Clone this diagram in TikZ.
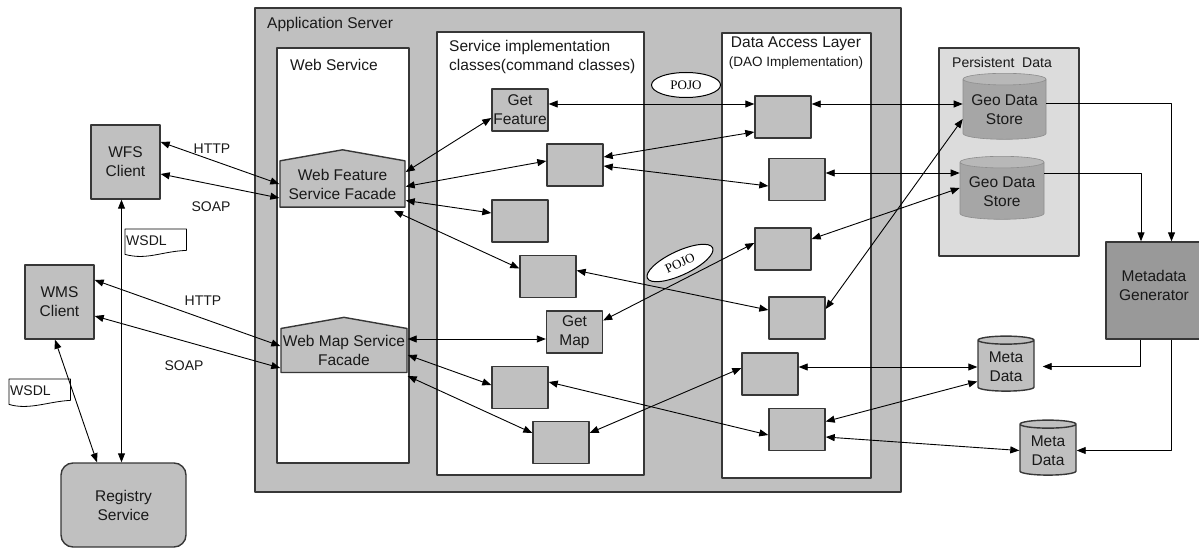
\documentclass[tikz,border=0pt]{standalone}
\usepackage{fontspec}
\setmainfont{Liberation Sans}
\newfontfamily\pojofont{Liberation Serif}
\usetikzlibrary{arrows.meta}
\usetikzlibrary{shapes.geometric}
\usetikzlibrary{shapes.symbols}
\usetikzlibrary{calc}

\definecolor{srvgray}{RGB}{192,192,192}
\definecolor{boxgray}{RGB}{192,192,192}
\definecolor{pergray}{RGB}{220,220,220}
\definecolor{geogray}{RGB}{166,166,166}
\definecolor{gengray}{RGB}{153,153,153}
\definecolor{edgegray}{RGB}{55,55,55}

\tikzset{
  txt/.style={font=\fontsize{15.5}{19}\selectfont, text=black!90},
  smalltxt/.style={font=\fontsize{14}{17}\selectfont, text=black!90},
  frame/.style={draw=edgegray, line width=1.4pt},
  cls/.style={frame, fill=boxgray, minimum width=56pt, minimum height=42pt, inner sep=1pt, align=center, txt},
  client/.style={cls, minimum width=69pt, minimum height=74pt},
  facade/.style={signal, signal to=north, signal pointer angle=160, frame, fill=boxgray, minimum width=125pt, minimum height=56pt, inner sep=1pt, align=center, txt},
  geostore/.style={cylinder, shape border rotate=90, aspect=0.17, cylinder uses custom fill, cylinder body fill=geogray, cylinder end fill=geogray!80!white, draw=geogray!85!black, line width=0.6pt, align=center, txt, inner sep=1pt},
  metastore/.style={cylinder, shape border rotate=90, aspect=0.22, frame, fill=boxgray, minimum width=56pt, minimum height=55pt, align=center, txt, inner sep=1pt},
  wsdldoc/.style={smalltxt, minimum height=22pt, inner xsep=1pt, text width=59pt, align=left, anchor=north west},
  pojo/.style={ellipse, draw, line width=1pt, fill=white, minimum width=69pt, minimum height=25pt, inner sep=0pt, font=\pojofont\fontsize{13}{15}\selectfont},
  conn/.style={<->, line width=0.9pt},
  flow/.style={->, line width=0.9pt},
}

\begin{document}
\begin{tikzpicture}[x=1pt, y=1pt, line join=round, >={Triangle[length=9pt, width=7pt]}]
  \useasboundingbox (0,0) rectangle (1199,-548);
  %--- Containers
    \draw[frame, fill=srvgray] (255,-8) rectangle (901,-492);
    \draw[frame, fill=white] (277,-48) rectangle (409,-463);
    \draw[frame, fill=white] (437,-32) rectangle (644,-475);
    \draw[frame, fill=white] (722,-33) rectangle (871,-478);
    \draw[frame, fill=pergray] (939,-48) rectangle (1079,-256);
    \node[txt, anchor=base west, inner sep=0pt] (srvtitle) at (267,-29) {Application Server};
    \node[txt, anchor=base west, inner sep=0pt] (wstitle) at (290,-71) {Web Service};
    \node[txt, anchor=north west, inner sep=0pt, align=left] (impltitle) at (449,-40.5) {Service implementation\\classes(command classes)};
    \node[txt, anchor=north, inner sep=0pt, align=center] (daotitle) at (796,-37) {Data Access Layer\\{\fontsize{13.5}{17}\selectfont(DAO Implementation)}};
    \node[smalltxt, anchor=base west, inner sep=0pt] (pertitle) at (952,-67.5) {Persistent\ \ Data};
  %--- Clients
    \node[client] (wfs) at (125.5,-162) {WFS\\Client};
    \node[client] (wms) at (59.5,-302) {WMS\\Client};
    \node[client, rounded corners=12pt, minimum width=125pt, minimum height=84pt] (reg) at (123.5,-505) {Registry\\Service};
    \node[wsdldoc] (wsdla) at (125,-229) {WSDL};
    \node[wsdldoc] (wsdlb) at (9,-379) {WSDL};
    \draw[line width=0.8pt] (wsdla.north west) -- (wsdla.north east) -- ([yshift=1pt]wsdla.south east)
      .. controls ([xshift=-25pt, yshift=0pt]wsdla.south east) and ([xshift=22pt, yshift=-9pt]wsdla.south west) .. ([yshift=-3pt]wsdla.south west) -- cycle;
    \draw[line width=0.8pt] (wsdlb.north west) -- (wsdlb.north east) -- ([yshift=1pt]wsdlb.south east)
      .. controls ([xshift=-22pt, yshift=0pt]wsdlb.south east) and ([xshift=20pt, yshift=-9pt]wsdlb.south west) .. ([yshift=-3pt]wsdlb.south west) -- cycle;
  %--- Web service facades
    \node[facade] (wfsf) at (342.5,-184) {Web Feature\\Service Facade};
    \node[facade, minimum width=126pt, minimum height=55pt] (wmsf) at (344,-350.5) {Web Map Service\\Facade};
  %--- Command classes
    \node[cls] (gf) at (520,-110) {Get\\Feature};
    \node[cls] (cmdb) at (575,-165) {};
    \node[cls] (cmdc) at (520,-221) {};
    \node[cls] (cmdd) at (548,-276.5) {};
    \node[cls] (gm) at (574.5,-332) {Get\\Map};
    \node[cls] (cmdf) at (520,-387.5) {};
    \node[cls] (cmdg) at (561,-442.5) {};
  %--- DAO classes
    \node[cls] (daoa) at (783,-117) {};
    \node[cls] (daob) at (797,-179.5) {};
    \node[cls] (daoc) at (783,-249) {};
    \node[cls] (daod) at (797,-318) {};
    \node[cls] (daoe) at (770,-374) {};
    \node[cls] (daof) at (797,-429.5) {};
  %--- Stores
    \node[geostore, minimum width=83pt, minimum height=66pt] (geoa) at (1004.5,-110) {Geo Data\\Store};
    \node[geostore, minimum width=84pt, minimum height=63pt] (geob) at (1002,-191.5) {Geo Data\\Store};
    \node[metastore] (metaa) at (1006,-366.5) {Meta\\Data};
    \node[metastore] (metab) at (1048,-450.5) {Meta\\Data};
    \node[cls, fill=gengray, minimum width=96pt, minimum height=97pt, text depth=10pt] (gen) at (1154,-290.5) {Metadata\\Generator};
  %--- POJO
    \node[pojo] (pojoa) at (686,-85) {POJO};
    \node[pojo, rotate=25, minimum width=72pt, minimum height=24pt] (pojob) at (680,-263) {POJO};
  %--- Client links
    \draw[conn] ([yshift=20pt]wfs.east) -- (wfsf.west);
    \draw[conn] ([yshift=-12pt]wfs.east) -- ([yshift=-14pt]wfsf.west);
    \draw[conn] ([yshift=22pt]wms.east) -- ([yshift=4.5pt]wmsf.west);
    \draw[conn] ([yshift=-14pt]wms.east) -- ([yshift=-17.5pt]wmsf.west);
    \draw[conn] ([xshift=-4pt]wfs.south) -- ([xshift=-4pt]wfs.south |- reg.north);
    \draw[conn] ([xshift=-4.5pt]wms.south) -- ([xshift=-26.5pt]reg.north);
    \node[smalltxt] (httpa) at (212,-149) {HTTP};
    \node[smalltxt] (soapa) at (211,-207) {SOAP};
    \node[smalltxt] (httpb) at (203,-301) {HTTP};
    \node[smalltxt] (soapb) at (184,-366) {SOAP};
  %--- Facade to commands
    \draw[conn] ([yshift=12pt]wfsf.east) -- ([yshift=-8pt]gf.west);
    \draw[conn] ([yshift=-2.5pt]wfsf.east) -- ([yshift=4pt]cmdb.west);
    \draw[conn] ([yshift=-16.5pt]wfsf.east) -- ([yshift=8pt]cmdc.west);
    \draw[conn] ([xshift=51.5pt, yshift=-3pt]wfsf.south) -- ([yshift=8pt]cmdd.west);
    \draw[conn] ([yshift=11.5pt]wmsf.east) -- ([yshift=11.5pt]wmsf.east -| gm.west);
    \draw[conn] ([yshift=-4.5pt]wmsf.east) -- ([yshift=2.5pt]cmdf.west);
    \draw[conn] ([yshift=-25.5pt]wmsf.east) -- ([yshift=9.5pt]cmdg.west);
  %--- Commands to DAO
    \draw[conn] ([yshift=6pt]gf.east) -- ([yshift=6pt]gf.east -| daoa.west);
    \draw[conn] ([yshift=8pt]cmdb.east) -- ([yshift=-15pt]daoa.west);
    \draw[conn] ([yshift=-1pt]cmdb.east) -- ([yshift=-6.5pt]daob.west);
    \draw[conn] ([yshift=6pt]cmdd.east) -- ([yshift=8pt]daod.west);
    \draw[conn] ([yshift=11.5pt]gm.east) -- ([yshift=6pt]daoc.west);
    \draw[conn] ([yshift=5.5pt]cmdf.east) -- ([yshift=-5.5pt]daof.west);
    \draw[conn] ([yshift=9.5pt]cmdg.east) -- ([yshift=6pt]daoe.west);
  %--- DAO to stores
    \draw[conn] ([yshift=13pt]daoa.east) -- ([yshift=13pt]daoa.east -| geoa.west);
    \draw[conn] ([yshift=9pt]daod.east) -- ([yshift=-9pt]geoa.west);
    \draw[conn] ([yshift=6.5pt]daob.east) -- ([yshift=6.5pt]daob.east -| geob.west);
    \draw[conn] ([yshift=10pt]daoc.east) -- ([yshift=3.5pt]geob.west);
    \draw[conn] ([yshift=7pt]daoe.east) -- ([yshift=7pt]daoe.east -| metaa.west);
    \draw[conn] ([yshift=8pt]daof.east) -- ([yshift=-15pt]metaa.west);
    \draw[conn] ([yshift=-7.5pt]daof.east) -- (metab.west);
  %--- Metadata generation
    \draw[flow] ([yshift=7pt]geoa.east) -| ([xshift=17.5pt]gen.north);
    \draw[flow] ([yshift=18.5pt]geob.east) -| ([xshift=-13pt]gen.north);
    \draw[flow] ([xshift=-14pt]gen.south) |- ([xshift=8pt]metaa.east);
    \draw[flow] ([xshift=17.5pt]gen.south) |- (metab.east);
\end{tikzpicture}
\end{document}
